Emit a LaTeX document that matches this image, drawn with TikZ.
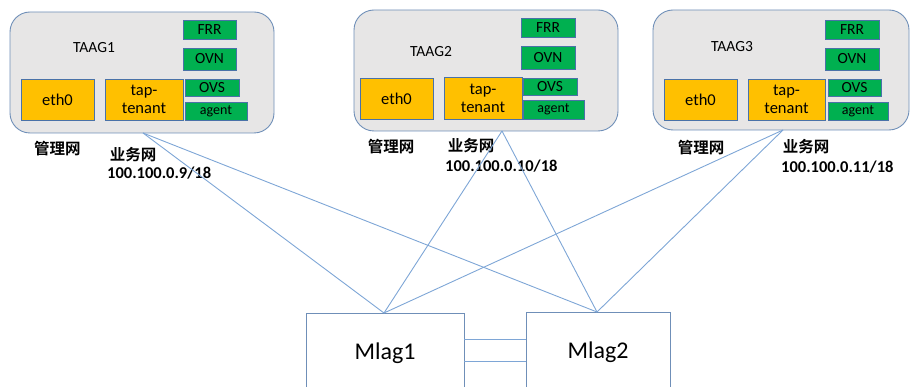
\documentclass[tikz,border=0pt]{standalone}
\usepackage{fontspec}
\setmainfont{Carlito}
\newfontfamily\cjk{Noto Sans CJK SC}[BoldFont={* Bold}]
\usetikzlibrary{calc}
\definecolor{hostfill}{HTML}{E7E6E6}
\definecolor{hostdraw}{HTML}{6F8FB8}
\definecolor{orangefill}{HTML}{FFC000}
\definecolor{boxdraw}{HTML}{4A72A8}
\definecolor{greenfill}{HTML}{00B050}
\definecolor{linkcol}{HTML}{7EA6D6}
\tikzset{
  hostbox/.style={draw=hostdraw, fill=hostfill, rounded corners=20pt, line width=0.9pt, inner sep=0pt, outer sep=0pt},
  ifbox/.style={draw=boxdraw, fill=orangefill, line width=0.8pt, inner sep=0pt, outer sep=0pt, align=center, font=\fontsize{16.5}{18}\selectfont},
  svcbox/.style={draw=boxdraw, fill=greenfill, line width=0.8pt, inner sep=0pt, outer sep=0pt, font=\fontsize{15.5}{16}\selectfont},
  agentbox/.style={svcbox, font=\fontsize{14}{15}\selectfont},
  hostlabel/.style={font=\fontsize{15.5}{16}\selectfont, inner sep=0pt},
  cnlabel/.style={font=\cjk\bfseries\fontsize{15.5}{16}\selectfont, inner sep=0pt},
  iplabel/.style={font=\bfseries\fontsize{16.5}{17}\selectfont, inner sep=0pt, anchor=west},
  switchbox/.style={draw=hostdraw, line width=0.9pt, inner sep=0pt, outer sep=0pt, font=\fontsize{24}{26}\selectfont},
  link/.style={draw=linkcol, line width=0.9pt},
}
\newcommand{\rbox}[7]{%
  \pgfmathsetmacro\rbW{#4-#2}%
  \pgfmathsetmacro\rbH{#5-#3}%
  \pgfmathsetmacro\rbX{(#2+#4)/2}%
  \pgfmathsetmacro\rbY{(#3+#5)/2}%
  \node[#6, minimum width=\rbW pt, minimum height=\rbH pt] (#1) at (\rbX,\rbY) {#7};}
\begin{document}
\begin{tikzpicture}[x=1pt,y=-1pt]
\useasboundingbox (0,0) rectangle (911,387);
\clip (0,0) rectangle (911,387);

% ---- TAAG1 ----
\rbox{h1}{10}{12}{274}{133}{hostbox}{}
\node[hostlabel] (h1l) at (94,48) {TAAG1};
\rbox{h1frr}{183}{20}{236}{39}{svcbox}{FRR}
\rbox{h1ovn}{183}{48}{236}{70}{svcbox}{OVN}
\rbox{h1ovs}{185}{79}{239}{96}{svcbox}{OVS}
\rbox{h1agent}{185}{102}{247}{120}{agentbox}{agent}
\rbox{h1eth}{21}{79}{94}{120}{ifbox}{eth0}
\rbox{h1tap}{105}{79}{183}{120}{ifbox}{tap-\\tenant}
\node[cnlabel] (h1m) at (57.5,149) {管理网};
\node[cnlabel] (h1b) at (133,155) {业务网};
\node[iplabel] (h1ip) at (107,173) {100.100.0.9/18};

% ---- TAAG2 ----
\rbox{h2}{354}{10}{618}{131}{hostbox}{}
\node[hostlabel] (h2l) at (431,52) {TAAG2};
\rbox{h2frr}{521}{18}{575}{37}{svcbox}{FRR}
\rbox{h2ovn}{521}{46}{575}{69}{svcbox}{OVN}
\rbox{h2ovs}{523}{78}{577}{95}{svcbox}{OVS}
\rbox{h2agent}{523}{100}{584}{119}{agentbox}{agent}
\rbox{h2eth}{360}{78}{433}{119}{ifbox}{eth0}
\rbox{h2tap}{444}{77}{522}{119}{ifbox}{tap-\\tenant}
\node[cnlabel] (h2m) at (391,147) {管理网};
\node[cnlabel] (h2b) at (471,146) {业务网};
\node[iplabel] (h2ip) at (445,166) {100.100.0.10/18};

% ---- TAAG3 ----
\rbox{h3}{653}{10}{909}{130}{hostbox}{}
\node[hostlabel] (h3l) at (732,47) {TAAG3};
\rbox{h3frr}{825}{20}{879}{39}{svcbox}{FRR}
\rbox{h3ovn}{825}{48}{879}{70}{svcbox}{OVN}
\rbox{h3ovs}{828}{79}{881}{96}{svcbox}{OVS}
\rbox{h3agent}{828}{102}{888}{120}{agentbox}{agent}
\rbox{h3eth}{664}{79}{737}{120}{ifbox}{eth0}
\rbox{h3tap}{748}{79}{825}{120}{ifbox}{tap-\\tenant}
\node[cnlabel] (h3m) at (701,148) {管理网};
\node[cnlabel] (h3b) at (806,147) {业务网};
\node[iplabel] (h3ip) at (781,167) {100.100.0.11/18};

% ---- switches ----
\rbox{m1}{306}{313}{464}{393}{switchbox}{Mlag1}
\rbox{m2}{526}{312}{670}{392}{switchbox}{Mlag2}

% uplink points
\coordinate (u1) at (h1.south -| 143,0);
\coordinate (u2) at (h2.south -| 502,0);
\coordinate (u3) at (h3.south -| 783,0);
\coordinate (d1) at (m1.north -| 384,0);
\coordinate (d2) at (m2.north -| 597,0);

\draw[link] (u1) -- (d1);
\draw[link] (u1) -- (d2);
\draw[link] (u2) -- (d1);
\draw[link] (u2) -- (d2);
\draw[link] (u3) -- (d1);
\draw[link] (u3) -- (d2);

\draw[link] ([yshift=14pt]m1.east) -- ([yshift=14pt]m1.east -| m2.west);
\draw[link] ([yshift=-8pt]m1.east) -- ([yshift=-8pt]m1.east -| m2.west);
\end{tikzpicture}
\end{document}
